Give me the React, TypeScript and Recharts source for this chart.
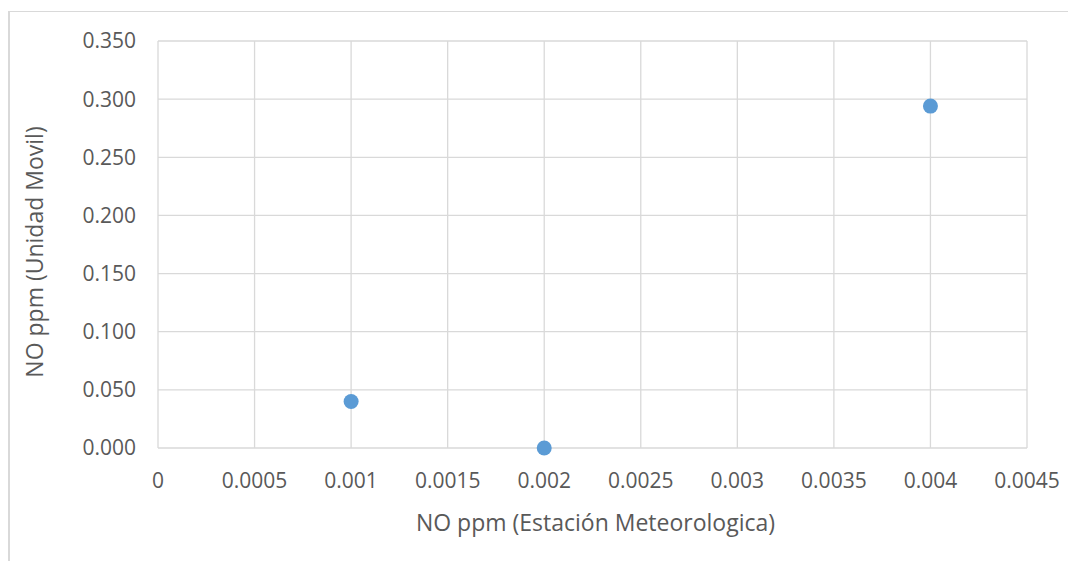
import React from 'react';
import { ScatterChart, Scatter, XAxis, YAxis, CartesianGrid, Label } from 'recharts';

const stationValues = [0.001, 0.002, 0.004];
const mobileValues = [0.04, 0.0, 0.294];
const xTicks = [0, 0.0005, 0.001, 0.0015, 0.002, 0.0025, 0.003, 0.0035, 0.004, 0.0045];
const xTickLabels = ['0', '0.0005', '0.001', '0.0015', '0.002', '0.0025', '0.003', '0.0035', '0.004', '0.0045'];
const yTicks = [0, 0.05, 0.1, 0.15, 0.2, 0.25, 0.3, 0.35];
const xTitle = 'NO ppm (Estación Meteorologica)';
const yTitle = 'NO ppm (Unidad Movil)';

const data = stationValues.map((x, i) => ({ x, y: mobileValues[i] }));

const font = '"Open Sans", sans-serif';
const textColor = '#595959';
const gridColor = '#d9d9d9';
const tickFont = 21;
const titleFont = 23;

const Dot = (p: any) => <circle cx={p.cx} cy={p.cy} r={7.5} fill="#5B9BD5" />;

const XTitle = (props: any) => {
  const vb = props.viewBox || {};
  return (
    <text
      x={vb.x + vb.width / 2 + 3}
      y={vb.y + 74}
      textAnchor="middle"
      dominantBaseline="central"
      fill={textColor}
      fontSize={titleFont}
      fontFamily={font}
    >
      {xTitle}
    </text>
  );
};

const YTitle = (props: any) => {
  const vb = props.viewBox || {};
  const cx = vb.x + 25.5;
  const cy = vb.y + vb.height / 2 + 7.5;
  return (
    <text
      x={cx}
      y={cy}
      transform={`rotate(-90 ${cx} ${cy})`}
      textAnchor="middle"
      dominantBaseline="central"
      fill={textColor}
      fontSize={titleFont}
      fontFamily={font}
    >
      {yTitle}
    </text>
  );
};

export default function App() {
  return (
    <div style={{ position: 'relative', width: 1068, height: 553 }}>
      <ScatterChart
        width={1068}
        height={553}
        margin={{ top: 33, right: 49, left: 0, bottom: 0 }}
      >
        <CartesianGrid stroke={gridColor} strokeWidth={1.3} horizontalValues={yTicks} verticalValues={xTicks} />
        <XAxis
          type="number"
          dataKey="x"
          domain={[0, 0.0045]}
          ticks={xTicks}
          tickFormatter={(v: number) => xTickLabels[xTicks.indexOf(v)] ?? String(v)}
          tickLine={false}
          tickSize={0}
          tickMargin={25}
          axisLine={false}
          height={113}
          tick={{ fill: textColor, fontSize: tickFont, fontFamily: font }}
          interval={0}
        >
          <Label content={XTitle} />
        </XAxis>
        <YAxis
          type="number"
          dataKey="y"
          domain={[0, 0.35]}
          ticks={yTicks}
          tickFormatter={(v: number) => v.toFixed(3)}
          tickLine={false}
          tickSize={0}
          tickMargin={22}
          axisLine={false}
          width={150}
          tick={{ fill: textColor, fontSize: tickFont, fontFamily: font }}
          interval={0}
        >
          <Label content={YTitle} />
        </YAxis>
        <Scatter data={data} shape={Dot} isAnimationActive={false} />
      </ScatterChart>
      <div
        style={{
          position: 'absolute',
          left: 0,
          top: 3,
          width: 1068,
          height: 550,
          borderLeft: '2px solid #d9d9d9',
          borderTop: '1px solid #d9d9d9',
          boxSizing: 'border-box',
          pointerEvents: 'none',
        }}
      />
    </div>
  );
}
